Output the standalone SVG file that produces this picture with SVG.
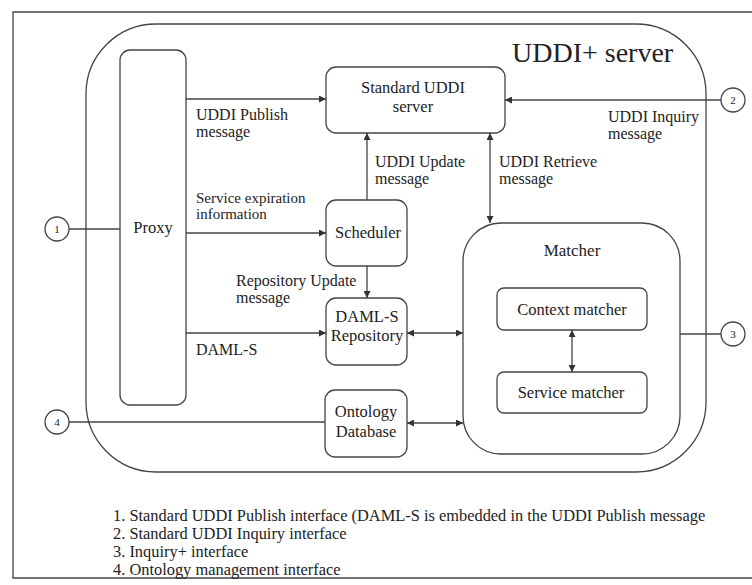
<svg xmlns="http://www.w3.org/2000/svg" width="752" height="585" viewBox="0 0 752 585">
  <defs>
    <marker id="arr" viewBox="0 0 10 10" refX="10" refY="5" markerWidth="9" markerHeight="7" markerUnits="userSpaceOnUse" orient="auto-start-reverse">
      <path d="M0,0 L10,5 L0,10 z" fill="#333"/>
    </marker>
    <style>
      .box { fill: none; stroke: #444; stroke-width: 1.3; }
      .line { fill: none; stroke: #444; stroke-width: 1.3; }
      .t { font-family: "Liberation Serif", "Times New Roman", serif; font-size: 16px; fill: #222; }
      .b { font-size: 16.5px; }
      .c { text-anchor: middle; }
      .n { font-family: "Liberation Serif", "Times New Roman", serif; font-size: 11px; fill: #222; text-anchor: middle; }
    </style>
  </defs>
  <rect width="752" height="585" fill="#ffffff"/>

  <!-- outer frame -->
  <path class="line" d="M752,12 H13 V578 H752"/>

  <!-- UDDI+ server container -->
  <g id="uddi-plus">
    <rect class="box" x="86" y="24" width="620" height="448" rx="70" ry="70"/>
    <text class="t" x="512" y="62" style="font-size:28px">UDDI+ server</text>
  </g>

  <g id="proxy">
    <rect class="box" x="120" y="50" width="66" height="355" rx="10"/>
    <text class="t b c" x="153" y="233">Proxy</text>
  </g>

  <g id="standard-uddi">
    <rect class="box" x="326" y="67" width="179" height="66" rx="10"/>
    <text class="t b c" x="413" y="93">Standard UDDI</text>
    <text class="t b c" x="413" y="112">server</text>
  </g>

  <g id="scheduler">
    <rect class="box" x="326" y="200" width="81" height="66" rx="10"/>
    <text class="t b c" x="368" y="238">Scheduler</text>
  </g>

  <g id="repository">
    <rect class="box" x="326" y="298" width="81" height="67" rx="10"/>
    <text class="t b c" x="367" y="322">DAML-S</text>
    <text class="t b c" x="367" y="341">Repository</text>
  </g>

  <g id="ontology">
    <rect class="box" x="325" y="390" width="82" height="67" rx="10"/>
    <text class="t b c" x="366" y="417">Ontology</text>
    <text class="t b c" x="366" y="437">Database</text>
  </g>

  <g id="matcher">
    <rect class="box" x="463" y="223" width="217" height="231" rx="38"/>
    <text class="t c" x="572" y="256" style="font-size:17px">Matcher</text>
  </g>

  <g id="context-matcher">
    <rect class="box" x="497" y="288" width="150" height="42" rx="7"/>
    <text class="t b c" x="572" y="315">Context matcher</text>
  </g>

  <g id="service-matcher">
    <rect class="box" x="497" y="372" width="150" height="41" rx="7"/>
    <text class="t b c" x="571" y="398">Service matcher</text>
  </g>

  <g id="port-1">
    <circle class="box" cx="57" cy="229" r="12"/>
    <text class="n" x="57" y="233">1</text>
  </g>
  <g id="port-2">
    <circle class="box" cx="733" cy="100" r="12"/>
    <text class="n" x="733" y="104">2</text>
  </g>
  <g id="port-3">
    <circle class="box" cx="733" cy="334" r="12"/>
    <text class="n" x="733" y="338">3</text>
  </g>
  <g id="port-4">
    <circle class="box" cx="57" cy="422" r="12"/>
    <text class="n" x="57" y="426">4</text>
  </g>

  <g id="connectors">
    <!-- port links -->
    <line class="line" x1="69" y1="229" x2="120" y2="229"/>
    <line class="line" x1="69" y1="422" x2="325" y2="422"/>
    <line class="line" x1="680" y1="334" x2="721" y2="334"/>
    <line class="line" x1="721" y1="100" x2="505" y2="100" marker-end="url(#arr)"/>
    <!-- proxy outputs -->
    <line class="line" x1="186" y1="99" x2="326" y2="99" marker-end="url(#arr)"/>
    <line class="line" x1="186" y1="233" x2="326" y2="233" marker-end="url(#arr)"/>
    <line class="line" x1="186" y1="333" x2="326" y2="333" marker-end="url(#arr)"/>
    <!-- scheduler links -->
    <line class="line" x1="367" y1="200" x2="367" y2="133" marker-end="url(#arr)"/>
    <line class="line" x1="367" y1="266" x2="367" y2="298" marker-end="url(#arr)"/>
    <!-- retrieve -->
    <line class="line" x1="490" y1="133" x2="490" y2="223" marker-start="url(#arr)" marker-end="url(#arr)"/>
    <!-- matcher links -->
    <line class="line" x1="407" y1="333" x2="463" y2="333" marker-start="url(#arr)" marker-end="url(#arr)"/>
    <line class="line" x1="407" y1="423" x2="463" y2="423" marker-start="url(#arr)" marker-end="url(#arr)"/>
    <line class="line" x1="572" y1="330" x2="572" y2="372" marker-start="url(#arr)" marker-end="url(#arr)"/>
  </g>

  <g id="labels">
    <text class="t" x="196" y="120">UDDI Publish</text>
    <text class="t" x="196" y="137">message</text>
    <text class="t" x="608" y="122">UDDI Inquiry</text>
    <text class="t" x="608" y="139">message</text>
    <text class="t" x="375" y="167">UDDI Update</text>
    <text class="t" x="375" y="184">message</text>
    <text class="t" x="499" y="167">UDDI Retrieve</text>
    <text class="t" x="499" y="184">message</text>
    <text class="t" x="196" y="203" style="font-size:15px">Service expiration</text>
    <text class="t" x="196" y="219" style="font-size:15px">information</text>
    <text class="t" x="236" y="286">Repository Update</text>
    <text class="t" x="236" y="303">message</text>
    <text class="t" x="196" y="355">DAML-S</text>
  </g>

  <g id="legend">
    <text class="t" x="113" y="521" style="font-size:16.4px">1. Standard UDDI Publish interface (DAML-S is embedded in the UDDI Publish message</text>
    <text class="t" x="113" y="539" style="font-size:16.4px">2. Standard UDDI Inquiry interface</text>
    <text class="t" x="113" y="557" style="font-size:16.4px">3. Inquiry+ interface</text>
    <text class="t" x="113" y="575" style="font-size:16.4px">4. Ontology management interface</text>
  </g>
</svg>
